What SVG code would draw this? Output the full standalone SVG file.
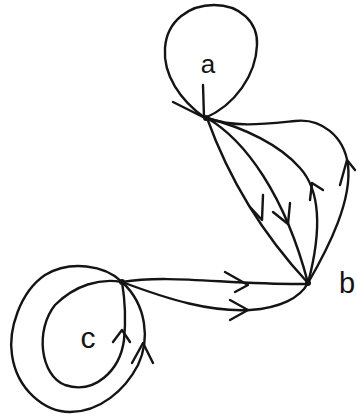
<svg xmlns="http://www.w3.org/2000/svg" width="357" height="416" viewBox="0 0 357 416">
<style>
.e{fill:none;stroke:#141414;stroke-width:2.4;stroke-linecap:round;stroke-linejoin:round}
.v{fill:#141414}
.l{font-family:"Liberation Sans","DejaVu Sans",sans-serif;fill:#141414;text-anchor:middle}
</style>
<rect width="357" height="416" fill="#fff"/>
<g id="connectors">
  <path class="e" d="M205,118 C180,100 163,75 165,48 C167,20 190,5 214,5 C240,5 258,22 257,45 C256,75 235,105 205,118"/>
  <path class="e" d="M173,102 L205,118 M203,85 L204,117"/>
  <path class="e" d="M207,118 Q240,210 308,283"/>
  <path class="e" d="M250,207 L262,220 L263,195"/>
  <path class="e" d="M207,118 C245,140 285,195 308,283"/>
  <path class="e" d="M273,212 L288,224 L290,203"/>
  <path class="e" d="M308,283 C322,230 320,190 300,168 C280,145 245,128 207,118"/>
  <path class="e" d="M310,200 L312,183 L323,190"/>
  <path class="e" d="M308,283 C330,245 352,200 348,165 C344,135 320,118 295,121 C265,124 235,128 207,118"/>
  <path class="e" d="M340,185 L347,160 L355,170"/>
  <path class="e" d="M122,282 C170,274 230,285 308,284"/>
  <path class="e" d="M225,272 L248,285 L235,292"/>
  <path class="e" d="M122,282 C170,300 210,312 250,310 C280,308 300,298 308,283"/>
  <path class="e" d="M230,300 L248,310 L230,320"/>
  <path class="e" d="M122,282 C100,278 75,285 55,305 C35,330 40,375 65,385 C95,395 120,370 124,340 C126,320 125,300 122,282"/>
  <path class="e" d="M113,342 L122,330 L130,342"/>
  <path class="e" d="M122,282 C105,265 70,260 45,275 C20,292 8,330 12,355 C17,390 45,412 70,412 C100,412 125,390 138,365 C150,340 147,305 122,282"/>
  <path class="e" d="M132,363 L143,343 L153,363"/>
</g>
<g id="a"><circle class="v" cx="206" cy="118" r="3"/><text class="l" x="208" y="73" font-size="26">a</text></g>
<g id="b"><circle class="v" cx="308" cy="283" r="3"/><text class="l" x="347" y="293" font-size="29">b</text></g>
<g id="c"><circle class="v" cx="122" cy="282" r="3"/><text class="l" x="88" y="348" font-size="30">c</text></g>
</svg>
